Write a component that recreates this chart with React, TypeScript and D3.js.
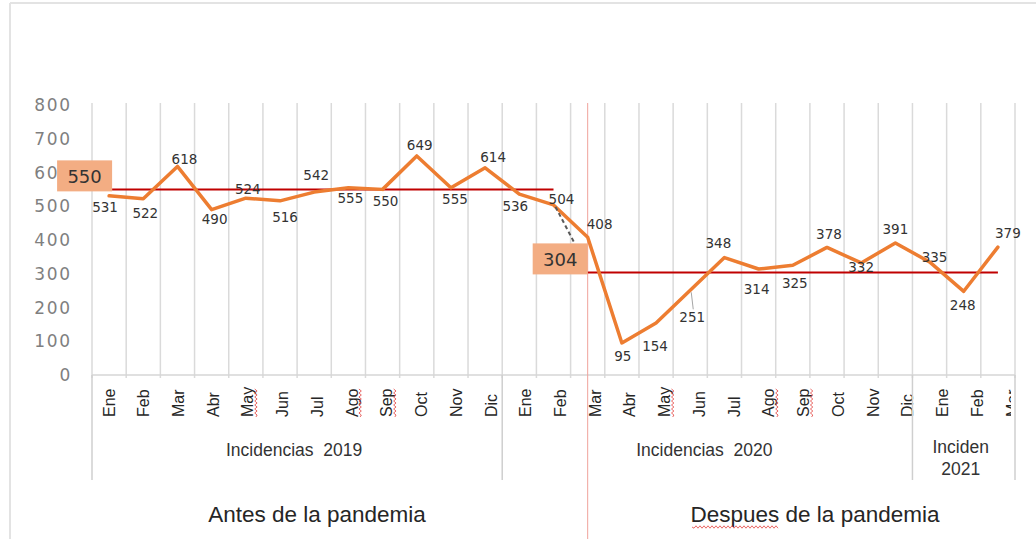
import React from "react";
import { scaleBand, scaleLinear, scalePoint, line, mean } from "d3";

// months shown under the chart
const months2019 = ["Ene", "Feb", "Mar", "Abr", "May", "Jun", "Jul", "Ago", "Sep", "Oct", "Nov", "Dic"];
const months2020 = ["Ene", "Feb", "Mar", "Abr", "May", "Jun", "Jul", "Ago", "Sep", "Oct", "Nov", "Dic"];
const months2021 = ["Ene", "Feb", "Mar"];

// incidencias per month
const values2019 = [531, 522, 618, 490, 524, 516, 542, 555, 550, 649, 555, 614];
const values2020 = [536, 504, 408, 95, 154, 251, 348, 314, 325, 378, 332, 391];
const values2021 = [335, 248, 379];

const yTicks = [0, 100, 200, 300, 400, 500, 600, 700, 800];
const groupTitles = [["Incidencias\u00a0 2019"], ["Incidencias\u00a0 2020"], ["Inciden", "2021"]];
const periodTitles = ["Antes de la pandemia", "Despues de la pandemia"];
const pandemicStart = "2020-Mar";

// words carrying a spell-check squiggle in the source
const flagged = ["May", "Ago", "Sep"];

// label nudges [dx, dy] relative to each point (baseline)
const labelNudge = [
  [-4, 16], [2, 19], [7, -2], [3, 14], [2, -4], [5, 21], [2, -12], [2, 15], [3, 17],
  [3, -6], [4, 16], [8, -6], [-4, 17], [8, -1], [12, -8], [1, 18], [-1, 28], [2, 32],
  [-6, -10], [-2, 25], [2, 23], [2, -8], [0, 9], [0, -9], [5, 0], [-1, 19], [10, -9]
];

const rows = [
  ...months2019.map((m, i) => ({ key: "2019-" + m, month: m, value: values2019[i] })),
  ...months2020.map((m, i) => ({ key: "2020-" + m, month: m, value: values2020[i] })),
  ...months2021.map((m, i) => ({ key: "2021-" + m, month: m, value: values2021[i] }))
];

function squiggle(x0, y0, len, vertical) {
  let d = `M${x0},${y0}`;
  for (let s = 2, k = 1; s <= len; s += 2, k++) {
    const off = k % 2 ? 1.2 : -1.2;
    d += vertical ? ` L${x0 + off},${y0 - s}` : ` L${x0 + s},${y0 + off}`;
  }
  return d;
}

export default function App() {
  const width = 1036,
    height = 539;
  const keys = rows.map(d => d.key);

  const x = scaleBand().domain(keys).range([92, 1015]).padding(0);
  const bw = x.bandwidth();
  const xc = k => x(k) + bw / 2;
  const y = scaleLinear().domain([0, 800]).range([375, 105]);
  const labelX = scalePoint().domain(keys).range([109, 1012]);

  const splitAt = keys.indexOf(pandemicStart);
  const before = rows.slice(0, splitAt);
  const after = rows.slice(splitAt);
  const avgBefore = Math.round(mean(before, d => d.value));
  const avgAfter = Math.round(mean(after, d => d.value));

  const path = line()
    .x(d => xc(d.key))
    .y(d => y(d.value));

  const gridXs = [...keys.map(k => x(k)), x(keys[keys.length - 1]) + bw];
  const groupEdges = [0, 12, 24, 27].map(i => (i < keys.length ? x(keys[i]) : x(keys[keys.length - 1]) + bw));
  const divider = xc(pandemicStart);

  const boxes = [
    { avg: avgBefore, x1: xc(before[0].key) + 3 },
    { avg: avgAfter, x1: divider }
  ];

  const leaderFrom = before[before.length - 1];
  const box2Top = y(avgAfter) + 2 - 31;

  return (
    <svg
      width={width}
      height={height}
      style={{ position: "absolute", left: 0, top: 0, background: "#fff" }}
    >
      <defs>
        <clipPath id="lblClip">
          <rect x={0} y={0} width={1011} height={height} />
        </clipPath>
      </defs>
      {/* frame */}
      <line x1={10} x2={width} y1={3} y2={3} stroke="#e3e3e3" strokeWidth={2} />
      <line x1={10} x2={10} y1={3} y2={height} stroke="#e3e3e3" strokeWidth={2} />

      {/* gridlines */}
      {gridXs.map((gx, i) => (
        <line key={"g" + i} x1={gx} x2={gx} y1={103} y2={378} stroke="#dadada" strokeWidth={1.5} />
      ))}
      <line x1={92} x2={1015} y1={y(0)} y2={y(0)} stroke="#d6d6d6" strokeWidth={1.5} />

      {/* y ticks */}
      {yTicks.map(t => (
        <text
          key={t}
          x={72}
          y={y(t)}
          dy="0.36em"
          textAnchor="end"
          style={{ fontFamily: "DejaVu Sans", fontSize: 17, fill: "#7f7f7f", letterSpacing: 1.8 }}
        >
          {t}
        </text>
      ))}

      {/* pandemic divider */}
      <line x1={divider} x2={divider} y1={103} y2={height} stroke="#f0a39b" strokeWidth={1} />

      {/* average lines */}
      <line x1={xc(before[0].key) + 3} x2={xc(before[before.length - 1].key)} y1={y(avgBefore)} y2={y(avgBefore)} stroke="#c00000" strokeWidth={2} />
      <line x1={xc(after[0].key)} x2={xc(after[after.length - 1].key)} y1={y(avgAfter)} y2={y(avgAfter)} stroke="#c00000" strokeWidth={2} />

      {/* series */}
      <path d={path(rows)} fill="none" stroke="#ed7d31" strokeWidth={3.5} strokeLinejoin="round" strokeLinecap="round" />

      {/* leader lines */}
      <line
        x1={xc(leaderFrom.key) + 2}
        y1={y(leaderFrom.value) + 2}
        x2={boxes[1].x1 - 13}
        y2={box2Top}
        stroke="#595959"
        strokeWidth={2}
        strokeDasharray="4 3"
      />
      <line
        x1={xc(keys[17]) + 1}
        y1={y(rows[17].value) + 2}
        x2={xc(keys[17]) + 3}
        y2={y(rows[17].value) + 19}
        stroke="#a6a6a6"
        strokeWidth={1}
      />

      {/* data labels */}
      {rows.map((d, i) => (
        <text
          key={"v" + i}
          x={xc(d.key) + labelNudge[i][0]}
          y={y(d.value) + labelNudge[i][1]}
          textAnchor="middle"
          style={{ fontFamily: "DejaVu Sans", fontSize: 13.5, fill: "#333" }}
        >
          {d.value}
        </text>
      ))}

      {/* average boxes */}
      {boxes.map((b, i) => (
        <g key={"b" + i}>
          <rect x={b.x1 - 55} y={y(b.avg) + 2 - 31} width={55} height={31} fill="#f3ad83" />
          <text
            x={b.x1 - 27.5}
            y={y(b.avg) + 2 - 8}
            textAnchor="middle"
            style={{ fontFamily: "DejaVu Sans", fontSize: 18, fill: "#333" }}
          >
            {b.avg}
          </text>
        </g>
      ))}

      {/* month labels */}
      <g clipPath="url(#lblClip)">
        {rows.map(d => (
          <g key={"m" + d.key}>
            <text
              transform={`translate(${labelX(d.key) + 5.5},417) rotate(-90)`}
              textAnchor="start"
              style={{ fontFamily: "Liberation Sans", fontSize: 16, fill: "#262626" }}
            >
              {d.month}
            </text>
            {flagged.includes(d.month) && (
              <path
                d={squiggle(labelX(d.key) + 8, 417, 28, true)}
                fill="none"
                stroke="#e2433f"
                strokeWidth={0.8}
              />
            )}
          </g>
        ))}
      </g>

      {/* group separators */}
      {groupEdges.map((gx, i) => (
        <line key={"s" + i} x1={gx} x2={gx} y1={375} y2={480} stroke="#cfcfcf" strokeWidth={1.5} />
      ))}

      {/* group titles */}
      {groupTitles.map((lines, i) => {
        const cx = (groupEdges[i] + groupEdges[i + 1]) / 2 - 3;
        return (
          <text
            key={"t" + i}
            textAnchor="middle"
            style={{ fontFamily: "Liberation Sans", fontSize: 17.5, fill: "#333" }}
          >
            {lines.map((l, j) => (
              <tspan key={j} x={cx} y={lines.length > 1 ? 453 + j * 22 : 456}>
                {l}
              </tspan>
            ))}
          </text>
        );
      })}

      {/* period titles */}
      <text x={317} y={522} textAnchor="middle" style={{ fontFamily: "Liberation Sans", fontSize: 22.5, fill: "#262626" }}>
        {periodTitles[0]}
      </text>
      <text x={815} y={522} textAnchor="middle" style={{ fontFamily: "Liberation Sans", fontSize: 22.5, fill: "#262626" }}>
        {periodTitles[1]}
      </text>
      <path d={squiggle(692, 527, 86, false)} fill="none" stroke="#e2433f" strokeWidth={0.8} />
    </svg>
  );
}
